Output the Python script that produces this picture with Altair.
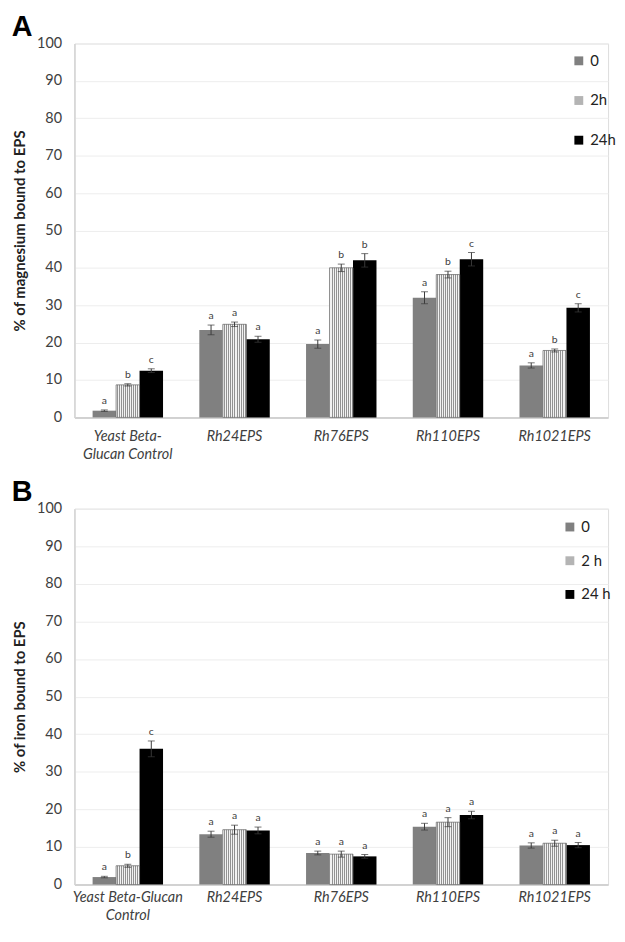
import altair as alt
import pandas as pd

categories = ["Yeast Beta-Glucan Control", "Rh24EPS", "Rh76EPS", "Rh110EPS", "Rh1021EPS"]

# Panel A: magnesium
mg_series = ["0", "2h", "24h"]
mg_0 = [1.8, 23.4, 19.6, 32.0, 13.9]
mg_2h = [8.7, 24.9, 40.0, 38.2, 17.9]
mg_24h = [12.5, 20.9, 42.0, 42.3, 29.3]
mg_err_0 = [0.2, 1.3, 1.1, 1.6, 0.7]
mg_err_2h = [0.3, 0.6, 1.0, 0.9, 0.4]
mg_err_24h = [0.5, 0.8, 1.8, 1.8, 1.1]
mg_let_0 = ["a", "a", "a", "a", "a"]
mg_let_2h = ["b", "a", "b", "b", "b"]
mg_let_24h = ["c", "a", "b", "c", "c"]

# Panel B: iron
fe_series = ["0", "2 h", "24 h"]
fe_0 = [2.0, 13.4, 8.4, 15.4, 10.4]
fe_2h = [5.0, 14.6, 8.1, 16.6, 11.0]
fe_24h = [36.1, 14.4, 7.5, 18.5, 10.5]
fe_err_0 = [0.2, 0.8, 0.5, 0.9, 0.7]
fe_err_2h = [0.4, 1.2, 0.8, 1.2, 0.8]
fe_err_24h = [2.1, 0.9, 0.5, 1.0, 0.7]
fe_let_0 = ["a", "a", "a", "a", "a"]
fe_let_2h = ["b", "a", "a", "a", "a"]
fe_let_24h = ["c", "a", "a", "a", "a"]

y_ticks = list(range(0, 101, 10))


def make_df(series, vals, errs, lets):
    rows = []
    for s, v, e, l in zip(series, vals, errs, lets):
        for c, vv, ee, ll in zip(categories, v, e, l):
            rows.append({"category": c, "series": s, "value": vv, "err": ee,
                         "letter": ll, "lo": vv - ee, "hi": vv + ee})
    return pd.DataFrame(rows)


df_mg = make_df(mg_series, [mg_0, mg_2h, mg_24h], [mg_err_0, mg_err_2h, mg_err_24h],
                [mg_let_0, mg_let_2h, mg_let_24h])
df_fe = make_df(fe_series, [fe_0, fe_2h, fe_24h], [fe_err_0, fe_err_2h, fe_err_24h],
                [fe_let_0, fe_let_2h, fe_let_24h])

# checker-like texture for the middle series (fine stripes)
stops = []
n = 12
for k in range(n * 2):
    col = "#f2f2f2" if k % 2 == 0 else "#929292"
    stops.append(alt.GradientStop(offset=k / (2 * n), color=col))
    stops.append(alt.GradientStop(offset=(k + 1) / (2 * n), color=col))
texture = alt.LinearGradient(gradient="linear", stops=stops, x1=0, x2=1, y1=0, y2=0)

FONT = "Lato"
TXT = "#404040"


def panel(df, series, ytitle, letter, height, label_expr, label_pad, legend_x, legend_y, row_pad):
    xenc = alt.X("category:N", sort=categories,
                 scale=alt.Scale(paddingInner=0.34, paddingOuter=0.17),
                 axis=alt.Axis(title=None, labelAngle=0, labelFontSize=14.5, labelFont=FONT,
                               labelFontStyle="italic", labelColor=TXT, ticks=False,
                               domainColor="#c8c8c8", domainWidth=1.5, labelPadding=label_pad,
                               labelLineHeight=18, labelExpr=label_expr))
    xoff = alt.XOffset("series:N", sort=series,
                       scale=alt.Scale(domain=series, paddingInner=0, paddingOuter=0))
    yscale = alt.Scale(domain=[0, 100], nice=False)
    yaxis = alt.Axis(title=ytitle, values=y_ticks, labelFontSize=14.5, labelFont=FONT,
                     labelColor=TXT, ticks=False, domainColor="#d4d4d4", domainWidth=1.5,
                     gridColor="#ededed", labelPadding=13, titleFont=FONT,
                     titleFontSize=15, titleFontWeight="bold", titleColor="#222222",
                     titlePadding=9, labelOverlap=False)
    base = alt.Chart(df).encode(x=xenc, xOffset=xoff)

    bars = base.mark_bar().encode(
        y=alt.Y("value:Q", scale=yscale, axis=yaxis),
        color=alt.Color("series:N", sort=series,
                        scale=alt.Scale(domain=series, range=["#808080", "#b4b4b4", "#000000"]),
                        legend=alt.Legend(title=None, orient="none", legendX=legend_x,
                                          legendY=legend_y, direction="vertical",
                                          symbolType="square", symbolSize=80, labelFontSize=15,
                                          labelFont=FONT, labelColor="#222222",
                                          rowPadding=row_pad, symbolStrokeWidth=0,
                                          labelOffset=4)),
    )
    tex = base.transform_filter(alt.datum.series == series[1]).mark_bar(
        fill=texture, stroke="#6a6a6a", strokeWidth=0.7).encode(
        y=alt.Y("value:Q", scale=yscale, axis=yaxis))
    rules = base.mark_rule(color="#3a3a3a", strokeWidth=1).encode(
        y=alt.Y("lo:Q", scale=yscale, axis=yaxis), y2="hi:Q")
    cap_hi = base.mark_tick(color="#3a3a3a", size=7, thickness=1).encode(
        y=alt.Y("hi:Q", scale=yscale, axis=yaxis))
    cap_lo = base.mark_tick(color="#3a3a3a", size=7, thickness=1).encode(
        y=alt.Y("lo:Q", scale=yscale, axis=yaxis))
    lets = base.mark_text(font=FONT, fontSize=10.5, color=TXT, baseline="bottom", dy=-4).encode(
        y=alt.Y("hi:Q", scale=yscale, axis=yaxis), text="letter:N")

    return alt.layer(bars, tex, rules, cap_hi, cap_lo, lets).properties(
        width=538, height=height,
        title=alt.TitleParams(letter, anchor="start", font="Liberation Sans", fontSize=29,
                              fontWeight="bold", color="#000000", offset=-6, dx=-1),
    )


pa = panel(df_mg, mg_series, "% of magnesium  bound to EPS", "A", 377,
           "datum.value == 'Yeast Beta-Glucan Control' ? ['Yeast Beta-', 'Glucan Control'] : datum.value",
           12, 501, 10, 24)
pb = panel(df_fe, fe_series, "% of iron bound to EPS", "B", 379,
           "datum.value == 'Yeast Beta-Glucan Control' ? ['Yeast Beta-Glucan', 'Control'] : datum.value",
           6, 492, 11, 18)

chart = alt.vconcat(pa, pb, spacing=16).resolve_scale(
    color="independent", xOffset="independent").configure_view(
    stroke=None).configure(padding={"left": 3, "top": 0, "right": 0, "bottom": 0})

chart.save("out.html", embed_options={"renderer": "svg", "actions": False})
